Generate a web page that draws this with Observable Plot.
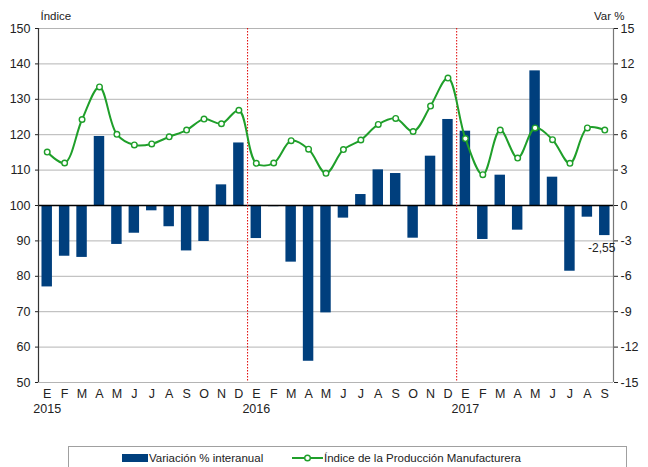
<!DOCTYPE html>
<html>
<head>
<meta charset="utf-8">
<script src="https://cdn.jsdelivr.net/npm/d3@7"></script>
<script src="https://cdn.jsdelivr.net/npm/@observablehq/plot@0.6"></script>
<style>
  html, body { margin: 0; padding: 0; background: #fff; }
  #wrap { position: relative; width: 648px; height: 467px; overflow: hidden; font-family: "Liberation Sans", Arial, sans-serif; }
  #legend { position: absolute; left: 68px; top: 446px; width: 559px; height: 30px; border: 1px solid #a0a0a0; box-sizing: border-box; font-size: 11.5px; color: #222; }
  .item { position: absolute; top: 5px; display: flex; align-items: center; white-space: nowrap; }
  .sw { display: inline-block; width: 26px; height: 8px; background: #003f7d; margin-right: 1px; }
</style>
</head>
<body>
<div id="wrap">
  <div id="chart"></div>
  <div id="legend">
    <div class="item" style="left:53px"><span class="sw"></span>Variación % interanual</div>
    <div class="item" style="left:223px"><svg width="31" height="10" style="margin-right:1px"><line x1="0" y1="5" x2="31" y2="5" stroke="#1f9f2a" stroke-width="2"/><circle cx="15.5" cy="5" r="2.8" fill="#fff" stroke="#1f9f2a" stroke-width="1.4"/></svg>Índice de la Producción Manufacturera</div>
  </div>
</div>
<script>
const months = ["E","F","M","A","M","J","J","A","S","O","N","D",
                "E","F","M","A","M","J","J","A","S","O","N","D",
                "E","F","M","A","M","J","J","A","S"];
const years = ["2015","2016","2017"];
// Variación % interanual (right axis)
const variacion = [-6.9,-4.3,-4.4,5.85,-3.3,-2.35,-0.45,-1.8,-3.85,-3.05,1.75,5.3,
                   -2.8,-0.1,-4.8,-13.2,-9.1,-1.07,0.93,3.02,2.71,-2.77,4.18,7.29,
                   6.3,-2.88,2.57,-2.09,11.41,2.4,-5.57,-0.99,-2.55];
// Índice de la Producción Manufacturera (left axis)
const indice = [115.1,112.0,124.3,133.5,120.1,117.1,117.4,119.4,121.3,124.4,123.1,126.9,
                111.9,112.0,118.3,115.9,109.1,115.8,118.5,122.9,124.6,120.9,128.1,136.0,
                118.9,108.7,121.3,113.4,121.9,118.6,111.9,121.9,121.3];
const indiceTicks = [50,60,70,80,90,100,110,120,130,140,150];
const varTicks = [-15,-12,-9,-6,-3,0,3,6,9,12,15];
const lastLabel = "-2,55";

// dual axis mapping: var 0 <-> index 100, var ±15 <-> index 50/150
const toIdx = v => 100 + v * 50 / 15;
const toVar = y => Math.round((y - 100) * 15 / 50);

const data = months.map((m, i) => ({i, m, v: variacion[i], idx: indice[i]}));
const yearStarts = years.map((y, k) => k * 12);
const yearBreaks = yearStarts.slice(1).map(s => s - 0.5);
const last = data[data.length - 1];

const green = "#1f9f2a";
const navy = "#003f7d";

const chart = Plot.plot({
  width: 648,
  height: 440,
  marginTop: 28,
  marginBottom: 58,
  marginLeft: 38,
  marginRight: 35,
  style: {fontFamily: "'Liberation Sans', Arial, sans-serif", fontSize: "12.5px", color: "#222", background: "#fff"},
  x: {type: "linear", domain: [-0.5, data.length - 0.5]},
  y: {domain: [50, 150]},
  marks: [
    Plot.ruleY(indiceTicks, {stroke: "#b4b4b4", strokeWidth: 1}),
    Plot.rect(data, {x1: d => d.i - 0.3, x2: d => d.i + 0.3, y1: 100, y2: d => toIdx(d.v), fill: navy}),
    Plot.ruleY([100], {stroke: "#000", strokeWidth: 1.3}),
    Plot.ruleX(yearBreaks, {stroke: "#e00000", strokeWidth: 1, strokeDasharray: "1.5,1.5"}),
    Plot.ruleX([-0.5], {stroke: "#333", strokeWidth: 1.2}),
    Plot.ruleX([data.length - 0.5], {stroke: "#777", strokeWidth: 1.2}),
    Plot.line(data, {x: "i", y: "idx", curve: "catmull-rom", stroke: green, strokeWidth: 2}),
    Plot.dot(data, {x: "i", y: "idx", r: 2.8, fill: "#fff", stroke: green, strokeWidth: 1.4}),
    Plot.text([last], {x: "i", y: d => toIdx(d.v), text: () => lastLabel, dy: 13, dx: -3, fill: "#222", fontSize: 12}),
    Plot.axisY({anchor: "left", ticks: indiceTicks, tickSize: 3, tickPadding: 5, label: null, tickFormat: d => String(d)}),
    Plot.axisY({anchor: "right", ticks: varTicks.map(toIdx), tickSize: 4, tickPadding: 3, label: null, tickFormat: d => String(toVar(d))}),
    Plot.axisX({ticks: data.map(d => d.i), tickFormat: i => months[i], tickSize: 0, tickPadding: 7, label: null}),
    Plot.axisX({ticks: yearStarts, tickFormat: i => years[i / 12], tickSize: 0, tickPadding: 22, label: null}),
    Plot.text(["Índice"], {frameAnchor: "top-left", text: d => d, dy: -9, dx: 2, lineAnchor: "bottom", textAnchor: "start", fontSize: 11.5, fill: "#222"}),
    Plot.text(["Var %"], {frameAnchor: "top-right", text: d => d, dy: -9, dx: 11, lineAnchor: "bottom", textAnchor: "end", fontSize: 11.5, fill: "#222"})
  ]
});
document.getElementById("chart").appendChild(chart);
</script>
</body>
</html>
